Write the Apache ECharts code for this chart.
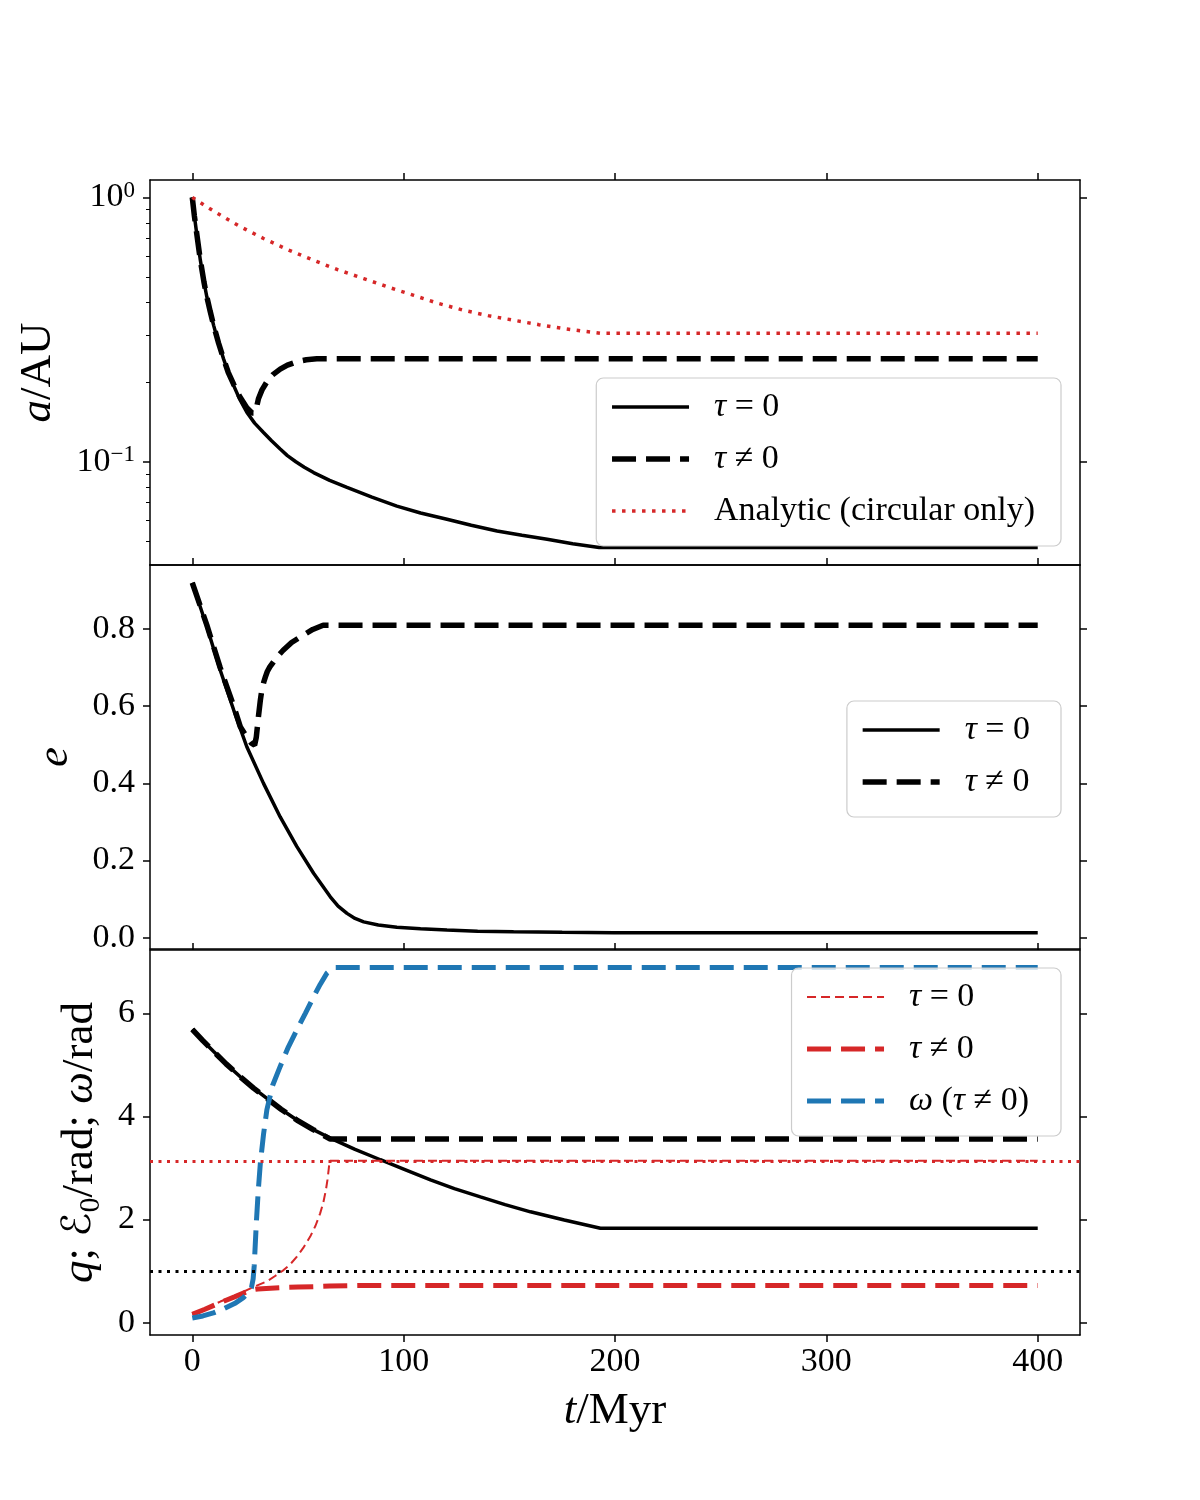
<!DOCTYPE html>
<html>
<head>
<meta charset="utf-8">
<title>orbit evolution</title>
<script src="https://cdn.jsdelivr.net/npm/echarts@6/dist/echarts.min.js"></script>
<style>
  html, body { margin: 0; padding: 0; background: #fff; }
  #main { width: 1200px; height: 1500px; }
</style>
</head>
<body>
<div id="main"></div>
<script>
// ticks
var tTicks = [0, 100, 200, 300, 400]
var aMajor = [0.1, 1]
var aMinor = [0.05, 0.06, 0.07, 0.08, 0.09, 0.2, 0.3, 0.4, 0.5, 0.6, 0.7, 0.8, 0.9]
var eTicks = [0, 0.2, 0.4, 0.6, 0.8]
var qTicks = [0, 2, 4, 6]

// panel 1: a / AU
var tA0 = [0, 1, 2, 3.8, 5.5, 6.9, 8.5, 10.1, 12.5, 14.8, 17, 19.6, 22.5, 25.8, 29.5, 33.7, 37.5, 41.6, 45, 49, 53, 57.4, 65, 73.2, 85, 96.8, 108, 120.5, 132, 144.2, 156, 167.9, 180, 192.5, 400]
var aT0 = [1.0, 0.85, 0.74, 0.58, 0.48, 0.42, 0.37, 0.328, 0.28, 0.245, 0.218, 0.194, 0.172, 0.154, 0.14, 0.129, 0.12, 0.1117, 0.1055, 0.1, 0.0953, 0.091, 0.085, 0.08, 0.0735, 0.068, 0.064, 0.0606, 0.0575, 0.0547, 0.0527, 0.0509, 0.049, 0.0474, 0.0474]
var tA1 = [0, 1, 2, 3.8, 5.5, 6.9, 8.5, 10.1, 12.5, 14.8, 17, 19.6, 22.5, 25.8, 28.3, 29.7, 30.5, 31.3, 33, 35.2, 38, 41.6, 45, 49.5, 54, 58.9, 400]
var aT1 = [1.0, 0.85, 0.74, 0.58, 0.48, 0.42, 0.37, 0.328, 0.28, 0.245, 0.218, 0.196, 0.176, 0.16, 0.153, 0.153, 0.162, 0.173, 0.187, 0.2, 0.213, 0.224, 0.232, 0.239, 0.243, 0.245, 0.245]
var tAn = [0, 6, 13.3, 22, 33.7, 45, 57.4, 69, 81.1, 93, 104.8, 116, 128.4, 140, 152, 164, 175.7, 193, 400]
var aAn = [1.0, 0.93, 0.857, 0.78, 0.699, 0.635, 0.578, 0.532, 0.493, 0.457, 0.426, 0.398, 0.374, 0.357, 0.343, 0.33, 0.319, 0.306, 0.306]

// panel 2: e
var tE0 = [0, 6.9, 13.2, 19.6, 25.8, 33.7, 41.6, 49.5, 57.4, 65.3, 69, 73.2, 77, 81.1, 88, 96.8, 108, 120.5, 135, 152, 175, 199.5, 400]
var eT0 = [0.92, 0.806, 0.694, 0.59, 0.495, 0.40, 0.313, 0.236, 0.167, 0.106, 0.082, 0.063, 0.05, 0.041, 0.033, 0.027, 0.023, 0.02, 0.017, 0.0155, 0.014, 0.013, 0.013]
var tE1 = [0, 6.9, 13.2, 19.6, 22.7, 25.8, 28, 29.5, 30.3, 31.3, 32.2, 32.9, 33.8, 34.6, 35.5, 36.7, 40, 43, 47, 52.5, 57, 61.9, 400]
var eT1 = [0.92, 0.81, 0.70, 0.60, 0.547, 0.52, 0.504, 0.499, 0.52, 0.573, 0.615, 0.642, 0.662, 0.676, 0.69, 0.702, 0.727, 0.745, 0.765, 0.784, 0.799, 0.81, 0.81]

// panel 3: q, E0, omega
var tQ0 = [0, 5, 10.1, 16, 22.7, 29, 35.3, 42, 49.5, 57, 65.3, 77, 89, 100, 112.7, 124, 136.3, 148, 160, 176, 193.1, 400]
var qT0 = [5.69, 5.47, 5.26, 5.02, 4.77, 4.55, 4.35, 4.14, 3.93, 3.75, 3.58, 3.36, 3.16, 2.98, 2.77, 2.6, 2.44, 2.29, 2.15, 1.99, 1.83, 1.83]
var tQ1 = [0, 5, 10.1, 16, 22.7, 29, 35.3, 42, 49.5, 57, 65.3, 400]
var qT1 = [5.69, 5.47, 5.26, 5.02, 4.77, 4.55, 4.35, 4.14, 3.93, 3.75, 3.56, 3.56]
var tP0 = [0, 6, 13.3, 20, 25.8, 30, 35.3, 39, 43.2, 46.5, 49.5, 52.5, 55.8, 58.3, 60.5, 62, 63.2, 64, 64.5, 65, 400]
var pT0 = [0.16, 0.27, 0.41, 0.52, 0.63, 0.71, 0.80, 0.9, 1.02, 1.14, 1.28, 1.45, 1.67, 1.88, 2.12, 2.33, 2.57, 2.78, 2.96, 3.14, 3.14]
var tP1 = [0, 6, 13.3, 20, 25.8, 28.5, 31, 35, 42, 50, 58, 65, 80, 400]
var pT1 = [0.16, 0.26, 0.39, 0.5, 0.60, 0.64, 0.655, 0.665, 0.68, 0.69, 0.70, 0.71, 0.72, 0.72]
var tW1 = [0, 5, 10, 15, 20, 24, 26.5, 28, 28.8, 29.3, 30.3, 31.2, 32.2, 33.7, 35.3, 38, 41.6, 45.5, 49.5, 53.5, 57.4, 60.5, 63.7, 66.8, 400]
var wT1 = [0.09, 0.13, 0.19, 0.27, 0.37, 0.48, 0.58, 0.68, 0.85, 1.1, 1.93, 2.55, 3.09, 3.65, 4.13, 4.6, 4.97, 5.35, 5.68, 6.0, 6.32, 6.56, 6.78, 6.89, 6.89]
var piLine = 3.14159
var oneLine = 1

var legendText = {
  a_t0: '{i|τ} = 0', a_t1: '{i|τ} ≠ 0', a_an: 'Analytic (circular only)',
  e_t0: '{i|τ} = 0', e_t1: '{i|τ} ≠ 0',
  p_t0: '{i|τ} = 0', p_t1: '{i|τ} ≠ 0', w_t1: '{i|ω} ({i|τ} ≠ 0)'
}

var FONT = '"Liberation Serif", "DejaVu Serif", serif'
var RED = '#d62728'
var BLUE = '#1f77b4'
var DASH = [24, 10]

function zip(ts, vs) {
  return ts.map(function(t, i) { return [t, vs[i]] })
}

var tickFont = { fontFamily: FONT, fontSize: 34, color: '#000' }
var nameFont = {
  fontFamily: FONT, fontSize: 45, color: '#000', lineHeight: 52,
  rich: {
    i: { fontFamily: FONT, fontSize: 45, fontStyle: 'italic', lineHeight: 52 },
    c: { fontFamily: '"DejaVu Serif", "DejaVu Sans", serif', fontSize: 40, lineHeight: 52 },
    sub: { fontFamily: FONT, fontSize: 30, lineHeight: 32, verticalAlign: 'bottom' }
  }
}
var axisLine = { show: true, onZero: false, lineStyle: { color: '#000', width: 1.5 } }

function xAxisOf(grid, pos, ticks, extra) {
  return Object.assign({
    type: 'value', gridIndex: grid, position: pos, min: -20, max: 420,
    axisLine: axisLine,
    axisTick: { show: ticks, inside: false, length: 7, lineStyle: { color: '#000', width: 1.5 }, customValues: tTicks },
    axisLabel: { show: false },
    splitLine: { show: false }
  }, extra || {})
}

function yAxisOf(grid, pos, type, min, max, ticks, extra) {
  return Object.assign({
    type: type, gridIndex: grid, position: pos, min: min, max: max,
    axisLine: axisLine,
    axisTick: { show: true, inside: false, length: 7, lineStyle: { color: '#000', width: 1.5 }, customValues: ticks },
    axisLabel: { show: false },
    splitLine: { show: false }
  }, extra || {})
}

function line(name, xi, yi, ts, vs, color, width, dash, extra) {
  return Object.assign({
    name: name, type: 'line', xAxisIndex: xi, yAxisIndex: yi,
    data: zip(ts, vs), symbol: 'none', showSymbol: false, silent: true,
    lineStyle: { color: color, width: width, type: dash },
    itemStyle: { color: color }
  }, extra || {})
}

function legendItem(name, color, width, dash) {
  return { name: name, itemStyle: { opacity: 0 }, lineStyle: { color: color, width: width, type: dash } }
}

function legendOf(top, items, padRight) {
  return {
    orient: 'vertical', right: 139, top: top, data: items,
    selectedMode: false, itemWidth: 77, itemHeight: 40, itemGap: 12,
    padding: [9, padRight, 15, 13],
    backgroundColor: 'rgba(255,255,255,0.8)', borderColor: '#cccccc', borderWidth: 1.2, borderRadius: 7,
    formatter: function(n) { return legendText[n] },
    textStyle: {
      fontFamily: FONT, fontSize: 34, color: '#000', lineHeight: 40, padding: [0, 0, 0, 20],
      rich: { i: { fontFamily: FONT, fontSize: 34, fontStyle: 'italic', lineHeight: 40 } }
    }
  }
}

var option = {
  backgroundColor: '#fff',
  animation: false,
  grid: [
    { left: 150, width: 930, top: 180, height: 385, outerBoundsMode: 'none' },
    { left: 150, width: 930, top: 565, height: 384, outerBoundsMode: 'none' },
    { left: 150, width: 930, top: 950, height: 385, outerBoundsMode: 'none' }
  ],
  xAxis: [
    xAxisOf(0, 'bottom', false),
    xAxisOf(0, 'top', true),
    xAxisOf(1, 'bottom', false),
    xAxisOf(1, 'top', true),
    xAxisOf(2, 'bottom', true, {
      axisLabel: Object.assign({ show: true, margin: 10, customValues: tTicks }, tickFont),
      name: '{i|t}/Myr', nameLocation: 'middle', nameGap: 50, nameTextStyle: nameFont
    }),
    xAxisOf(2, 'top', true)
  ],
  yAxis: [
    yAxisOf(0, 'left', 'log', 0.0407, 1.163, aMajor, {
      axisLabel: Object.assign({
        show: true, margin: 15, customValues: aMajor,
        formatter: function(v) { return v > 0.5 ? '{b|10}{s|0}' : '{b|10}{s|−1}' },
        rich: {
          b: { fontFamily: FONT, fontSize: 34, lineHeight: 36 },
          s: { fontFamily: FONT, fontSize: 23, lineHeight: 14, verticalAlign: 'top' }
        }
      }, tickFont),
      name: '{i|a}/AU', nameLocation: 'middle', nameRotate: 90, nameGap: 86, nameTextStyle: nameFont
    }),
    yAxisOf(0, 'right', 'log', 0.0407, 1.163, aMajor),
    // minor ticks of the log axis
    yAxisOf(0, 'left', 'log', 0.0407, 1.163, aMinor, {
      axisLine: { show: false, onZero: false },
      axisTick: { show: true, inside: false, length: 4, lineStyle: { color: '#000', width: 1 }, customValues: aMinor }
    }),
    yAxisOf(1, 'left', 'value', -0.0293, 0.966, eTicks, {
      axisLabel: Object.assign({
        show: true, margin: 15, customValues: eTicks,
        formatter: function(v) { return v.toFixed(1) }
      }, tickFont),
      name: '{i|e}', nameLocation: 'middle', nameRotate: 90, nameGap: 56, nameTextStyle: nameFont
    }),
    yAxisOf(1, 'right', 'value', -0.0293, 0.966, eTicks),
    yAxisOf(2, 'left', 'value', -0.239, 7.228, qTicks, {
      axisLabel: Object.assign({ show: true, margin: 15, customValues: qTicks }, tickFont),
      name: '{i|q}; {c|ℰ}{sub|0}/rad; {i|ω}/rad', nameLocation: 'middle', nameRotate: 90, nameGap: 44,
      nameTextStyle: nameFont
    }),
    yAxisOf(2, 'right', 'value', -0.239, 7.228, qTicks)
  ],
  legend: [
    legendOf(378, [legendItem('a_t0', '#000', 3.5, 'solid'), legendItem('a_t1', '#000', 5.5, DASH), legendItem('a_an', RED, 3.5, [3.5, 6.5])], 26),
    legendOf(701, [legendItem('e_t0', '#000', 3.5, 'solid'), legendItem('e_t1', '#000', 5.5, DASH)], 31),
    legendOf(968, [legendItem('p_t0', RED, 2, [9, 5]), legendItem('p_t1', RED, 5, DASH), legendItem('w_t1', BLUE, 5, DASH)], 32)
  ],
  series: [
    line('a_t0', 0, 0, tA0, aT0, '#000', 3.5, 'solid'),
    line('a_t1', 0, 0, tA1, aT1, '#000', 5.5, DASH),
    line('a_an', 0, 0, tAn, aAn, RED, 3.5, [3.5, 6.5]),
    line('e_t0', 2, 3, tE0, eT0, '#000', 3.5, 'solid'),
    line('e_t1', 2, 3, tE1, eT1, '#000', 5.5, DASH),
    line('q_t0', 4, 5, tQ0, qT0, '#000', 3.5, 'solid', {
      markLine: {
        symbol: 'none', silent: true, label: { show: false },
        data: [
          { yAxis: piLine, lineStyle: { color: RED, width: 3, type: [3, 5.5] } },
          { yAxis: oneLine, lineStyle: { color: '#000', width: 3, type: [3, 5.5] } }
        ]
      }
    }),
    line('q_t1', 4, 5, tQ1, qT1, '#000', 5.5, DASH),
    line('p_t0', 4, 5, tP0, pT0, RED, 2, [9, 5]),
    line('p_t1', 4, 5, tP1, pT1, RED, 5, DASH),
    line('w_t1', 4, 5, tW1, wT1, BLUE, 5, DASH)
  ]
}

var myChart = echarts.init(document.getElementById('main'), null, { renderer: 'canvas' })
myChart.setOption(option)
window.addEventListener('resize', function() {
  myChart.resize()
})
</script>
</body>
</html>
